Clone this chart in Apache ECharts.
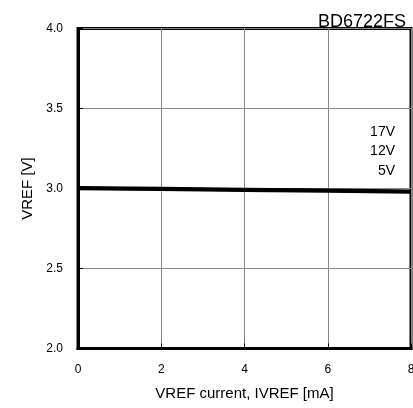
<!DOCTYPE html>
<html>
<head>
<meta charset="utf-8">
<script src="https://cdn.jsdelivr.net/npm/echarts@6/dist/echarts.min.js"></script>
<style>html,body{margin:0;padding:0;background:#fff;}#c{width:413px;height:408px;}</style>
</head>
<body>
<div id="c"></div>
<script>
var xValues = [0, 2, 4, 6, 8];
var seriesNames = ['17V', '12V', '5V'];
var v17 = [3.006, 3.001, 2.996, 2.991, 2.985];
var v12 = [3.002, 2.997, 2.992, 2.987, 2.981];
var v5  = [2.998, 2.993, 2.988, 2.983, 2.977];
var chartTitle = 'BD6722FS';
var xName = 'VREF current, IVREF [mA]';
var yName = 'VREF [V]';

var values = [v17, v12, v5];
var font = 'Liberation Sans, Arial, sans-serif';
var chart = echarts.init(document.getElementById('c'));
var series = seriesNames.map(function (n, i) {
  return {
    name: n, type: 'line', showSymbol: false, symbol: 'none',
    lineStyle: { color: '#000', width: 3 },
    data: xValues.map(function (x, j) { return [x, values[i][j]]; }),
    z: 5
  };
});
var graphics = seriesNames.map(function (n, i) {
  return {
    type: 'text', right: 18, top: 125 + i * 19.5,
    style: { text: n, font: '14px ' + font, fill: '#000', textAlign: 'right' }
  };
});
chart.setOption({
  animation: false,
  title: {
    text: chartTitle, right: 2, top: 8,
    textStyle: { fontFamily: font, fontSize: 18, fontWeight: 'normal', color: '#000' }
  },
  grid: { left: 78, right: 2, top: 28.5, bottom: 59.5, show: true, borderColor: '#000', borderWidth: 3,
    containLabel: false, outerBoundsMode: 'none' },
  xAxis: {
    type: 'value', min: 0, max: 8, interval: 2,
    name: xName, nameLocation: 'middle', nameGap: 38,
    nameTextStyle: { fontFamily: font, fontSize: 15, color: '#000' },
    axisLine: { lineStyle: { color: '#000', width: 3 } },
    axisTick: { inside: true, length: 5, lineStyle: { color: '#000' } },
    axisLabel: { margin: 15, fontFamily: font, fontSize: 12, color: '#000', hideOverlap: false },
    splitLine: { show: true, lineStyle: { color: '#888', width: 1 } }
  },
  yAxis: {
    type: 'value', min: 2, max: 4, interval: 0.5,
    name: yName, nameLocation: 'middle', nameGap: 43,
    nameTextStyle: { fontFamily: font, fontSize: 15, color: '#000' },
    axisLine: { show: true, lineStyle: { color: '#000', width: 3 } },
    axisTick: { show: true, inside: true, length: 5, lineStyle: { color: '#000' } },
    axisLabel: { margin: 15, fontFamily: font, fontSize: 12, color: '#000',
      formatter: function (v) { return v.toFixed(1); } },
    splitLine: { show: true, lineStyle: { color: '#888', width: 1 } }
  },
  graphic: graphics,
  series: series
});
</script>
</body>
</html>
